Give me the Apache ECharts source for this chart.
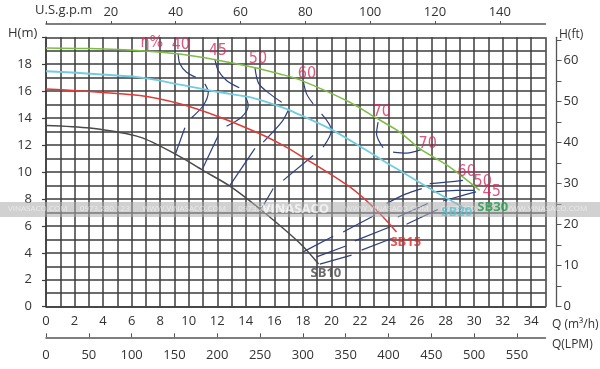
<!DOCTYPE html>
<html><head><meta charset="utf-8">
<script src="https://cdn.jsdelivr.net/npm/echarts@6/dist/echarts.min.js"></script>
<style>html,body{margin:0;padding:0;background:#fff}#c{width:600px;height:369px}</style>
</head><body><div id="c"></div>
<script>
// Pump head curves: [Q (m3/h), H (m)]
const sb30 = [[0,19.21],[3.08,19.16],[6.58,19.01],[9.38,18.76],[11.95,18.32],[14.5,17.78],[16.39,17.28],[17.79,16.84],[21.29,15.18],[23.04,14.07],[24.79,12.96],[26.19,11.73],[28.29,10.37],[30.39,8.64]];
const sb20 = [[0,17.48],[6.58,17.03],[9.38,16.49],[12.18,15.92],[14.29,15.55],[16.39,14.86],[17.09,14.57],[20.1,13.09],[23.6,10.86],[27.1,8.64],[29.6,7.16]];
const sb15 = [[0,16.17],[6.58,15.68],[9.38,15.06],[12.18,14.07],[14.99,12.84],[16.39,12.1],[17.79,11.24],[21.29,8.89],[23.16,7.16],[24.56,5.55]];
const sb10 = [[0,13.46],[3.08,13.26],[6.58,12.59],[9.2,11.25],[11.0,10.12],[12.89,8.95],[15.1,7.16],[17.79,4.71],[19.1,3.17]];

// Efficiency iso-lines (pieces)
const effCurves = [
  [[9.26,18.77],[9.38,18.03],[9.85,17.4],[10.5,17.03]],
  [[11.83,18.4],[12.07,17.53],[12.65,16.79],[13.54,16.25]],
  [[14.64,17.75],[14.92,16.54],[15.69,15.8],[16.51,15.18]],
  [[18.02,16.79],[18.26,15.8],[18.72,15.06]],
  [[23.27,13.7],[23.16,12.84],[23.62,11.8]],
  [[24.32,11.48],[25.26,11.4],[26.31,11.68]],
  [[11.13,16.54],[11.37,15.92],[11.02,14.94],[10.2,14.03]],
  [[13.94,15.68],[14.17,14.94],[13.7,14.07],[12.65,13.4]],
  [[16.97,14.57],[16.51,13.7],[15.22,12.22]],
  [[19.31,14.32],[20.0,13.09],[19.42,11.85]],
  [[9.73,13.29],[9.03,11.23]],
  [[12.07,12.71],[10.97,10.25]],
  [[14.64,11.75],[12.89,9.01]],
  [[18.72,11.23],[16.62,9.38]],
  [[15.92,8.77],[15.1,7.29]],
  [[18.02,4.07],[20.12,5.23]],
  [[18.96,3.7],[21.01,4.51]],
  [[19.19,3.16],[21.41,3.83]],
  [[20.82,5.55],[23.04,6.79]],
  [[21.64,4.89],[24.09,5.92]],
  [[22.11,4.2],[24.23,5.06]],
  [[23.86,7.66],[25.14,8.34],[26.33,8.77]],
  [[24.65,6.66],[26.75,7.66]],
  [[25.26,6.12],[27.45,7.21]],
  [[26.89,9.14],[28.29,9.26],[29.22,9.38]],
  [[27.12,8.52],[28.76,8.64],[30.04,8.64]],
  [[27.82,7.85],[29.22,8.27],[30.14,8.52]]
];

// Efficiency labels [Q, H, text]
const effLabels = [
  [7.42,19.58,'η%'],[9.45,19.43,'40'],[12.04,18.98,'45'],[14.85,18.39,'50'],[18.28,17.28,'60'],
  [23.53,14.45,'70'],[26.75,12.08,'70'],[29.48,10.0,'60'],[30.6,9.26,'50'],[31.23,8.52,'45']
];
// Model labels [Q, H, text]
const modelLabels = [[19.61,2.5,'SB10'],[25.21,4.8,'SB15'],[28.78,7.03,'SB20'],[31.3,7.4,'SB30']];

// Tick label arrays
const gpmTicks = [0,20,40,60,80,100,120,140];
const gpmLabels = [20,40,60,80,100,120,140];
const lpmTicks = [0,50,100,150,200,250,300,350,400,450,500,550];
const ftTicks = [0,5,10,15,20,25,30,35,40,45,50,55,60,65];
const ftLabels = [0,10,20,30,40,50,60];

const Q_MAX = 35, H_MAX = 20;
const GPM_PER_M3H = 4.40287, LPM_PER_M3H = 1000/60, FT_PER_M = 3.28084;

const gridColor = '#3c3c3c';
const txt = '#333';
const fam = "'Open Sans', 'Noto Sans', sans-serif";
const narrow = "'Liberation Sans Narrow', 'DejaVu Sans Condensed', 'Open Sans', sans-serif";

const chart = echarts.init(document.getElementById('c'), null, {renderer:'canvas'});

const lineSeries = (data, color, w) => ({
  type:'line', data, smooth:0.3, symbol:'none', xAxisIndex:0, yAxisIndex:0,
  lineStyle:{color, width:w}, itemStyle:{color}, silent:true, z:3
});

const series = [];
effCurves.forEach(c => series.push(lineSeries(c, '#2d3f80', 1.2)));
series.push(lineSeries(sb10, '#4a4a4a', 1.5));
series.push(lineSeries(sb15, '#e03a36', 1.5));
series.push(lineSeries(sb20, '#72cce0', 1.8));
series.push(lineSeries(sb30, '#7cbd45', 1.5));

series.push({
  type:'scatter', xAxisIndex:0, yAxisIndex:0, symbolSize:0.1, itemStyle:{color:'transparent'}, silent:true, z:5,
  data: effLabels.map(d => ({value:[d[0],d[1]], label:{formatter:d[2]}})),
  label:{show:true, position:'inside', color:'#d42c5c', fontSize:16, fontFamily:narrow}
});
const modelColors = {SB10:'#454545', SB15:'#e02b2b', SB20:'#5cc3d6', SB30:'#1f9a45'};
series.push({
  type:'scatter', xAxisIndex:0, yAxisIndex:0, symbolSize:0.1, itemStyle:{color:'transparent'}, silent:true, z:60,
  data: modelLabels.map(d => ({value:[d[0],d[1]], label:{formatter:d[2], color:modelColors[d[2]]}})),
  label:{show:true, position:'inside', fontSize:13, fontWeight:'bold', fontFamily:fam}
});

chart.setOption({
  animation:false,
  backgroundColor:'#fff',
  grid:{left:46, right:54.5, top:37.3, bottom:62.3, containLabel:false},
  xAxis:[
    {type:'value', position:'bottom', min:0, max:Q_MAX, interval:1,
     axisLine:{show:true, lineStyle:{color:gridColor, width:1.5}},
     axisTick:{show:false},
     axisLabel:{margin:8, color:txt, fontSize:13, fontFamily:fam,
       formatter:v => (v % 2 === 0 && v < Q_MAX) ? String(v) : ''},
     splitLine:{show:true, lineStyle:{color:gridColor, width:1.5}}},
    {type:'value', position:'bottom', offset:30.6, min:0, max:Q_MAX*LPM_PER_M3H,
     axisLine:{show:true, onZero:false, lineStyle:{color:'#555', width:1.5}},
     axisTick:{show:true, inside:true, length:4, customValues:lpmTicks, lineStyle:{color:'#555'}},
     axisLabel:{margin:11, color:txt, fontSize:13, fontFamily:fam, customValues:lpmTicks},
     splitLine:{show:false}},
    {type:'value', position:'top', offset:13.3, min:0, max:Q_MAX*GPM_PER_M3H,
     axisLine:{show:true, onZero:false, lineStyle:{color:'#555', width:1.5}},
     axisTick:{show:true, inside:false, length:3, customValues:gpmTicks, lineStyle:{color:'#555'}},
     axisLabel:{margin:5, color:txt, fontSize:13, fontFamily:fam, customValues:gpmLabels},
     splitLine:{show:false}}
  ],
  yAxis:[
    {type:'value', position:'left', min:0, max:H_MAX, interval:2,
     axisLine:{show:true, lineStyle:{color:gridColor, width:1.5}},
     axisTick:{show:true, inside:false, length:4, lineStyle:{color:gridColor, width:1.2}},
     axisLabel:{margin:14, color:txt, fontSize:13, fontFamily:fam,
       formatter:v => v >= H_MAX ? '' : String(v)},
     splitLine:{show:true, lineStyle:{color:gridColor, width:1.5}},
     minorTick:{show:false, splitNumber:2},
     minorSplitLine:{show:true, lineStyle:{color:gridColor, width:1.5}}},
    {type:'value', position:'right', offset:11, min:0, max:H_MAX*FT_PER_M,
     axisLine:{show:true, onZero:false, lineStyle:{color:'#555', width:1.3}},
     axisTick:{show:true, inside:false, length:5, customValues:ftTicks, lineStyle:{color:'#555'}},
     axisLabel:{margin:7, color:txt, fontSize:13, fontFamily:fam, customValues:ftLabels},
     splitLine:{show:false}}
  ],
  series,
  graphic:[
    {type:'text', left:8, top:27, style:{text:'H(m)', fill:txt, font:"13px 'Open Sans', sans-serif"}},
    {type:'text', left:35, top:4, style:{text:'U.S.g.p.m', fill:txt, font:"13px 'Open Sans', sans-serif"}},
    {type:'text', left:559, top:29, style:{text:'H(ft)', fill:txt, font:"12px 'Open Sans', sans-serif"}},
    {type:'text', left:552, top:319, style:{text:'Q (m³/h)', fill:txt, font:"12px 'Open Sans', sans-serif"}},
    {type:'text', left:552, top:339, style:{text:'Q(LPM)', fill:txt, font:"12px 'Open Sans', sans-serif"}},
    {type:'rect', left:0, top:202, z:50, shape:{width:600, height:15}, style:{fill:'rgba(172,172,172,0.55)'}},
    {type:'text', left:262, top:203, z:51, style:{text:'VINASACO', fill:'rgba(255,255,255,0.7)', font:"bold 13px 'Open Sans', sans-serif"}},
    {type:'text', left:8, top:205, z:51, style:{text:'VINASACO.COM      0973.280.123      WWW.VINASACO.COM      0973.280.123', fill:'rgba(255,255,255,0.55)', font:"8px 'Open Sans', sans-serif"}},
    {type:'text', left:345, top:205, z:51, style:{text:'WWW.VINASACO.COM      0973.280.123      WWW.VINASACO.COM', fill:'rgba(255,255,255,0.55)', font:"8px 'Open Sans', sans-serif"}}
  ]
});
</script>
</body></html>
